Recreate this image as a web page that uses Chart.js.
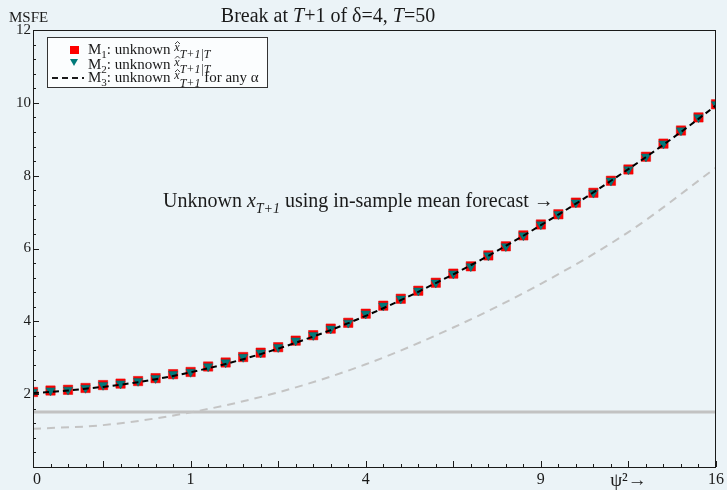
<!DOCTYPE html>
<html lang="en">
<head>
  <meta charset="UTF-8" />
  <title>Break at T+1 of delta=4, T=50</title>
  <script src="https://cdn.jsdelivr.net/npm/chart.js"></script>
  <style>
    html, body { margin: 0; padding: 0; background: #ebf3f7; }
    #wrap { width: 727px; height: 490px; }
  </style>
</head>
<body>
  <div id="wrap"><canvas id="msfe"></canvas></div>

  <script>
    // psi values (x axis is psi, labelled as psi^2)
    const psi = [0.1, 0.2, 0.3, 0.4, 0.5, 0.6, 0.7, 0.8, 0.9, 1.0,
                 1.1, 1.2, 1.3, 1.4, 1.5, 1.6, 1.7, 1.8, 1.9, 2.0,
                 2.1, 2.2, 2.3, 2.4, 2.5, 2.6, 2.7, 2.8, 2.9, 3.0,
                 3.1, 3.2, 3.3, 3.4, 3.5, 3.6, 3.7, 3.8, 3.9, 4.0];

    // M1: unknown x-hat (red squares)
    const m1 = [2.06, 2.10, 2.12, 2.17, 2.25, 2.29, 2.36, 2.44, 2.55, 2.61,
                2.76, 2.87, 3.02, 3.14, 3.29, 3.47, 3.62, 3.80, 3.96, 4.21,
                4.43, 4.62, 4.84, 5.06, 5.31, 5.51, 5.81, 6.06, 6.36, 6.66,
                6.94, 7.26, 7.53, 7.86, 8.17, 8.52, 8.88, 9.24, 9.60, 9.96];

    // M2: unknown x-hat (teal triangles)
    const m2 = [2.06, 2.10, 2.12, 2.17, 2.25, 2.29, 2.36, 2.44, 2.55, 2.61,
                2.76, 2.87, 3.02, 3.14, 3.29, 3.47, 3.62, 3.80, 3.96, 4.21,
                4.43, 4.62, 4.84, 5.06, 5.31, 5.51, 5.81, 6.06, 6.36, 6.66,
                6.94, 7.26, 7.53, 7.86, 8.17, 8.52, 8.88, 9.24, 9.60, 9.96];

    // M3: for any alpha (black dashed)
    const m3 = [2.03, 2.06, 2.10, 2.15, 2.20, 2.26, 2.33, 2.41, 2.50, 2.60,
                2.71, 2.83, 2.96, 3.10, 3.25, 3.41, 3.58, 3.76, 3.95, 4.15,
                4.36, 4.58, 4.81, 5.05, 5.29, 5.54, 5.80, 6.07, 6.35, 6.64,
                6.93, 7.23, 7.54, 7.86, 8.18, 8.51, 8.85, 9.20, 9.56, 9.93];

    // in-sample mean forecast, unknown x_{T+1} (light grey dashed)
    const psiMean = [0.1, 0.5, 1.0, 1.5, 2.0, 2.5, 3.0, 3.5, 4.0];
    const meanFc = [1.05, 1.15, 1.50, 2.05, 2.82, 3.83, 5.03, 6.45, 8.22];

    // flat reference line
    const psiFlat = [0.1, 4.0];
    const flat = [1.51, 1.51];

    // x tick labels (psi -> psi^2)
    const xTickVals = [0.1, 1, 2, 3, 3.5, 4];
    const xTickText = ["\u20070", "1", "4", "9", "\u03c8\u00b2\u2192", "16"];
    const yTickVals = [2, 4, 6, 8, 10, 12];

    const BG = "#ebf3f7";
    const INK = "#1a1a1a";
    const SERIF = "'Liberation Serif', 'DejaVu Serif', serif";

    const pts = (xs, ys) => xs.map((x, i) => ({ x: x, y: ys[i] }));

    // draw a run of text pieces (normal / italic / sub) starting at x
    function rich(ctx, parts, x, y, measureOnly) {
      let w = 0;
      parts.forEach(p => {
        ctx.font = (p.it ? "italic " : "") + p.size + "px " + SERIF;
        const by = y + (p.dy || 0);
        if (!measureOnly) {
          ctx.fillText(p.t, x + w, by);
          if (p.hat) {
            const cw = ctx.measureText(p.t).width;
            const cx = x + w + cw / 2 + 0.5;
            const top = by - p.size * 0.75;
            ctx.beginPath();
            ctx.lineWidth = 0.8;
            ctx.moveTo(cx - 2.5, top + 2);
            ctx.lineTo(cx, top - 0.5);
            ctx.lineTo(cx + 2.5, top + 2);
            ctx.stroke();
          }
        }
        w += ctx.measureText(p.t).width;
      });
      return w;
    }

    const decor = {
      id: "decor",
      beforeDraw(chart) {
        const c = chart.ctx;
        c.save();
        c.fillStyle = BG;
        c.fillRect(0, 0, chart.width, chart.height);
        c.restore();
      },
      afterDraw(chart) {
        const c = chart.ctx;
        const a = chart.chartArea;
        const xs = chart.scales.x, ys = chart.scales.y;
        c.save();
        c.strokeStyle = INK;
        c.fillStyle = INK;

        // frame
        c.lineWidth = 1;
        c.strokeRect(a.left + 0.5, a.top + 0.5, a.right - a.left - 1, a.bottom - a.top);

        // x ticks, pointing inward
        c.beginPath();
        for (let k = 1; k <= 40; k++) {
          const v = k / 10;
          const px = Math.round(xs.getPixelForValue(v)) + 0.5;
          const len = (k % 5 === 0) ? 6 : 3;
          c.moveTo(px, a.bottom);
          c.lineTo(px, a.bottom - len);
        }
        // y ticks
        for (let k = 1; k < 30; k++) {
          const v = k * 0.4;
          const py = Math.round(ys.getPixelForValue(v)) + 0.5;
          const len = (k % 5 === 0) ? 6 : 3;
          c.moveTo(a.left, py);
          c.lineTo(a.left + len, py);
        }
        c.stroke();

        // title
        c.textBaseline = "alphabetic";
        const title = [
          { t: "Break at ", size: 20 }, { t: "T", size: 20, it: true },
          { t: "+1 of \u03b4=4, ", size: 20 }, { t: "T", size: 20, it: true },
          { t: "=50", size: 20 }
        ];
        const tw = rich(c, title, 0, 0, true);
        rich(c, title, 328 - tw / 2, 22);

        // y axis caption
        c.font = "15px " + SERIF;
        c.fillText("MSFE", 9, 22);

        // annotation
        rich(c, [
          { t: "Unknown ", size: 20 }, { t: "x", size: 20, it: true },
          { t: "T+1", size: 14, it: true, dy: 6 },
          { t: " using in-sample mean forecast \u2192", size: 20 }
        ], 163, 207);

        // legend
        c.fillStyle = "#fbfdfe";
        c.fillRect(47, 37, 221, 51);
        c.lineWidth = 1;
        c.strokeStyle = "#333";
        c.strokeRect(47.5, 37.5, 220, 50);
        const rows = [54, 68.5, 82];
        // markers
        c.fillStyle = "#ff0000";
        c.fillRect(70, 46, 9, 8);
        c.fillStyle = "#007a7a";
        c.beginPath();
        c.moveTo(70, 59);
        c.lineTo(78, 59);
        c.lineTo(74, 66);
        c.closePath();
        c.fill();
        c.strokeStyle = INK;
        c.lineWidth = 2;
        c.setLineDash([6, 4]);
        c.beginPath();
        c.moveTo(52, 78);
        c.lineTo(84, 78);
        c.stroke();
        c.setLineDash([]);
        c.lineWidth = 1;
        c.fillStyle = INK;
        c.strokeStyle = INK;
        const lab = (n, tail) => [
          { t: "M", size: 15 }, { t: n, size: 11, dy: 4 },
          { t: ": unknown ", size: 15 }, { t: "x", size: 12, it: true, hat: true, dy: -3 }
        ].concat(tail);
        rich(c, lab("1", [{ t: "T+1|T", size: 12, it: true, dy: 4 }]), 88, rows[0]);
        rich(c, lab("2", [{ t: "T+1|T", size: 12, it: true, dy: 4 }]), 88, rows[1]);
        rich(c, lab("3", [{ t: "T+1", size: 12, it: true, dy: 5 }, { t: " for any \u03b1", size: 15 }]), 88, rows[2]);

        c.restore();
      }
    };

    const ctx = document.getElementById("msfe").getContext("2d");
    new Chart(ctx, {
      type: "line",
      data: {
        datasets: [
          {
            label: "M3",
            data: pts(psi, m3),
            borderColor: "#000",
            borderWidth: 2,
            borderDash: [6, 4],
            pointRadius: 0,
            fill: false
          },
          {
            label: "M2",
            data: pts(psi, m2),
            showLine: false,
            pointStyle: "triangle",
            rotation: 180,
            pointRadius: 5.3,
            pointBackgroundColor: "#007a7a",
            pointBorderColor: "#006a6a",
            pointBorderWidth: 0.5
          },
          {
            label: "M1",
            data: pts(psi, m1),
            showLine: false,
            pointStyle: "rect",
            pointRadius: 6.6,
            pointBackgroundColor: "#ff0000",
            pointBorderColor: "#e00000",
            pointBorderWidth: 0.5
          },
          {
            label: "mean forecast",
            data: pts(psiMean, meanFc),
            borderColor: "#c4c4c4",
            borderWidth: 2,
            borderDash: [8, 6],
            cubicInterpolationMode: "monotone",
            pointRadius: 0,
            fill: false
          },
          {
            label: "flat",
            data: pts(psiFlat, flat),
            borderColor: "#c2c2c2",
            borderWidth: 3,
            pointRadius: 0,
            fill: false
          }
        ]
      },
      options: {
        responsive: true,
        maintainAspectRatio: false,
        animation: false,
        events: [],
        layout: { padding: { left: 0, top: 30, right: 10, bottom: 0 } },
        plugins: {
          legend: { display: false },
          title: { display: false },
          tooltip: { enabled: false }
        },
        scales: {
          x: {
            type: "linear",
            min: 0.1,
            max: 4.0,
            grid: { display: false, drawTicks: false },
            border: { display: false },
            afterBuildTicks: s => { s.ticks = xTickVals.map(v => ({ value: v })); },
            afterFit: s => { s.height = 23; },
            ticks: {
              autoSkip: false,
              maxRotation: 0,
              padding: 3,
              color: INK,
              font: c => ({ family: SERIF, size: (c.tick && c.tick.value === 3.5) ? 19 : 16 }),
              callback: v => {
                const i = xTickVals.indexOf(Math.round(v * 10) / 10);
                return i >= 0 ? xTickText[i] : "";
              }
            }
          },
          y: {
            min: 0,
            max: 12,
            grid: { display: false, drawTicks: false },
            border: { display: false },
            afterBuildTicks: s => { s.ticks = yTickVals.map(v => ({ value: v })); },
            afterFit: s => { s.width = 33; },
            ticks: {
              padding: 2,
              color: INK,
              font: { family: SERIF, size: 15 }
            }
          }
        }
      },
      plugins: [decor]
    });
  </script>
</body>
</html>
